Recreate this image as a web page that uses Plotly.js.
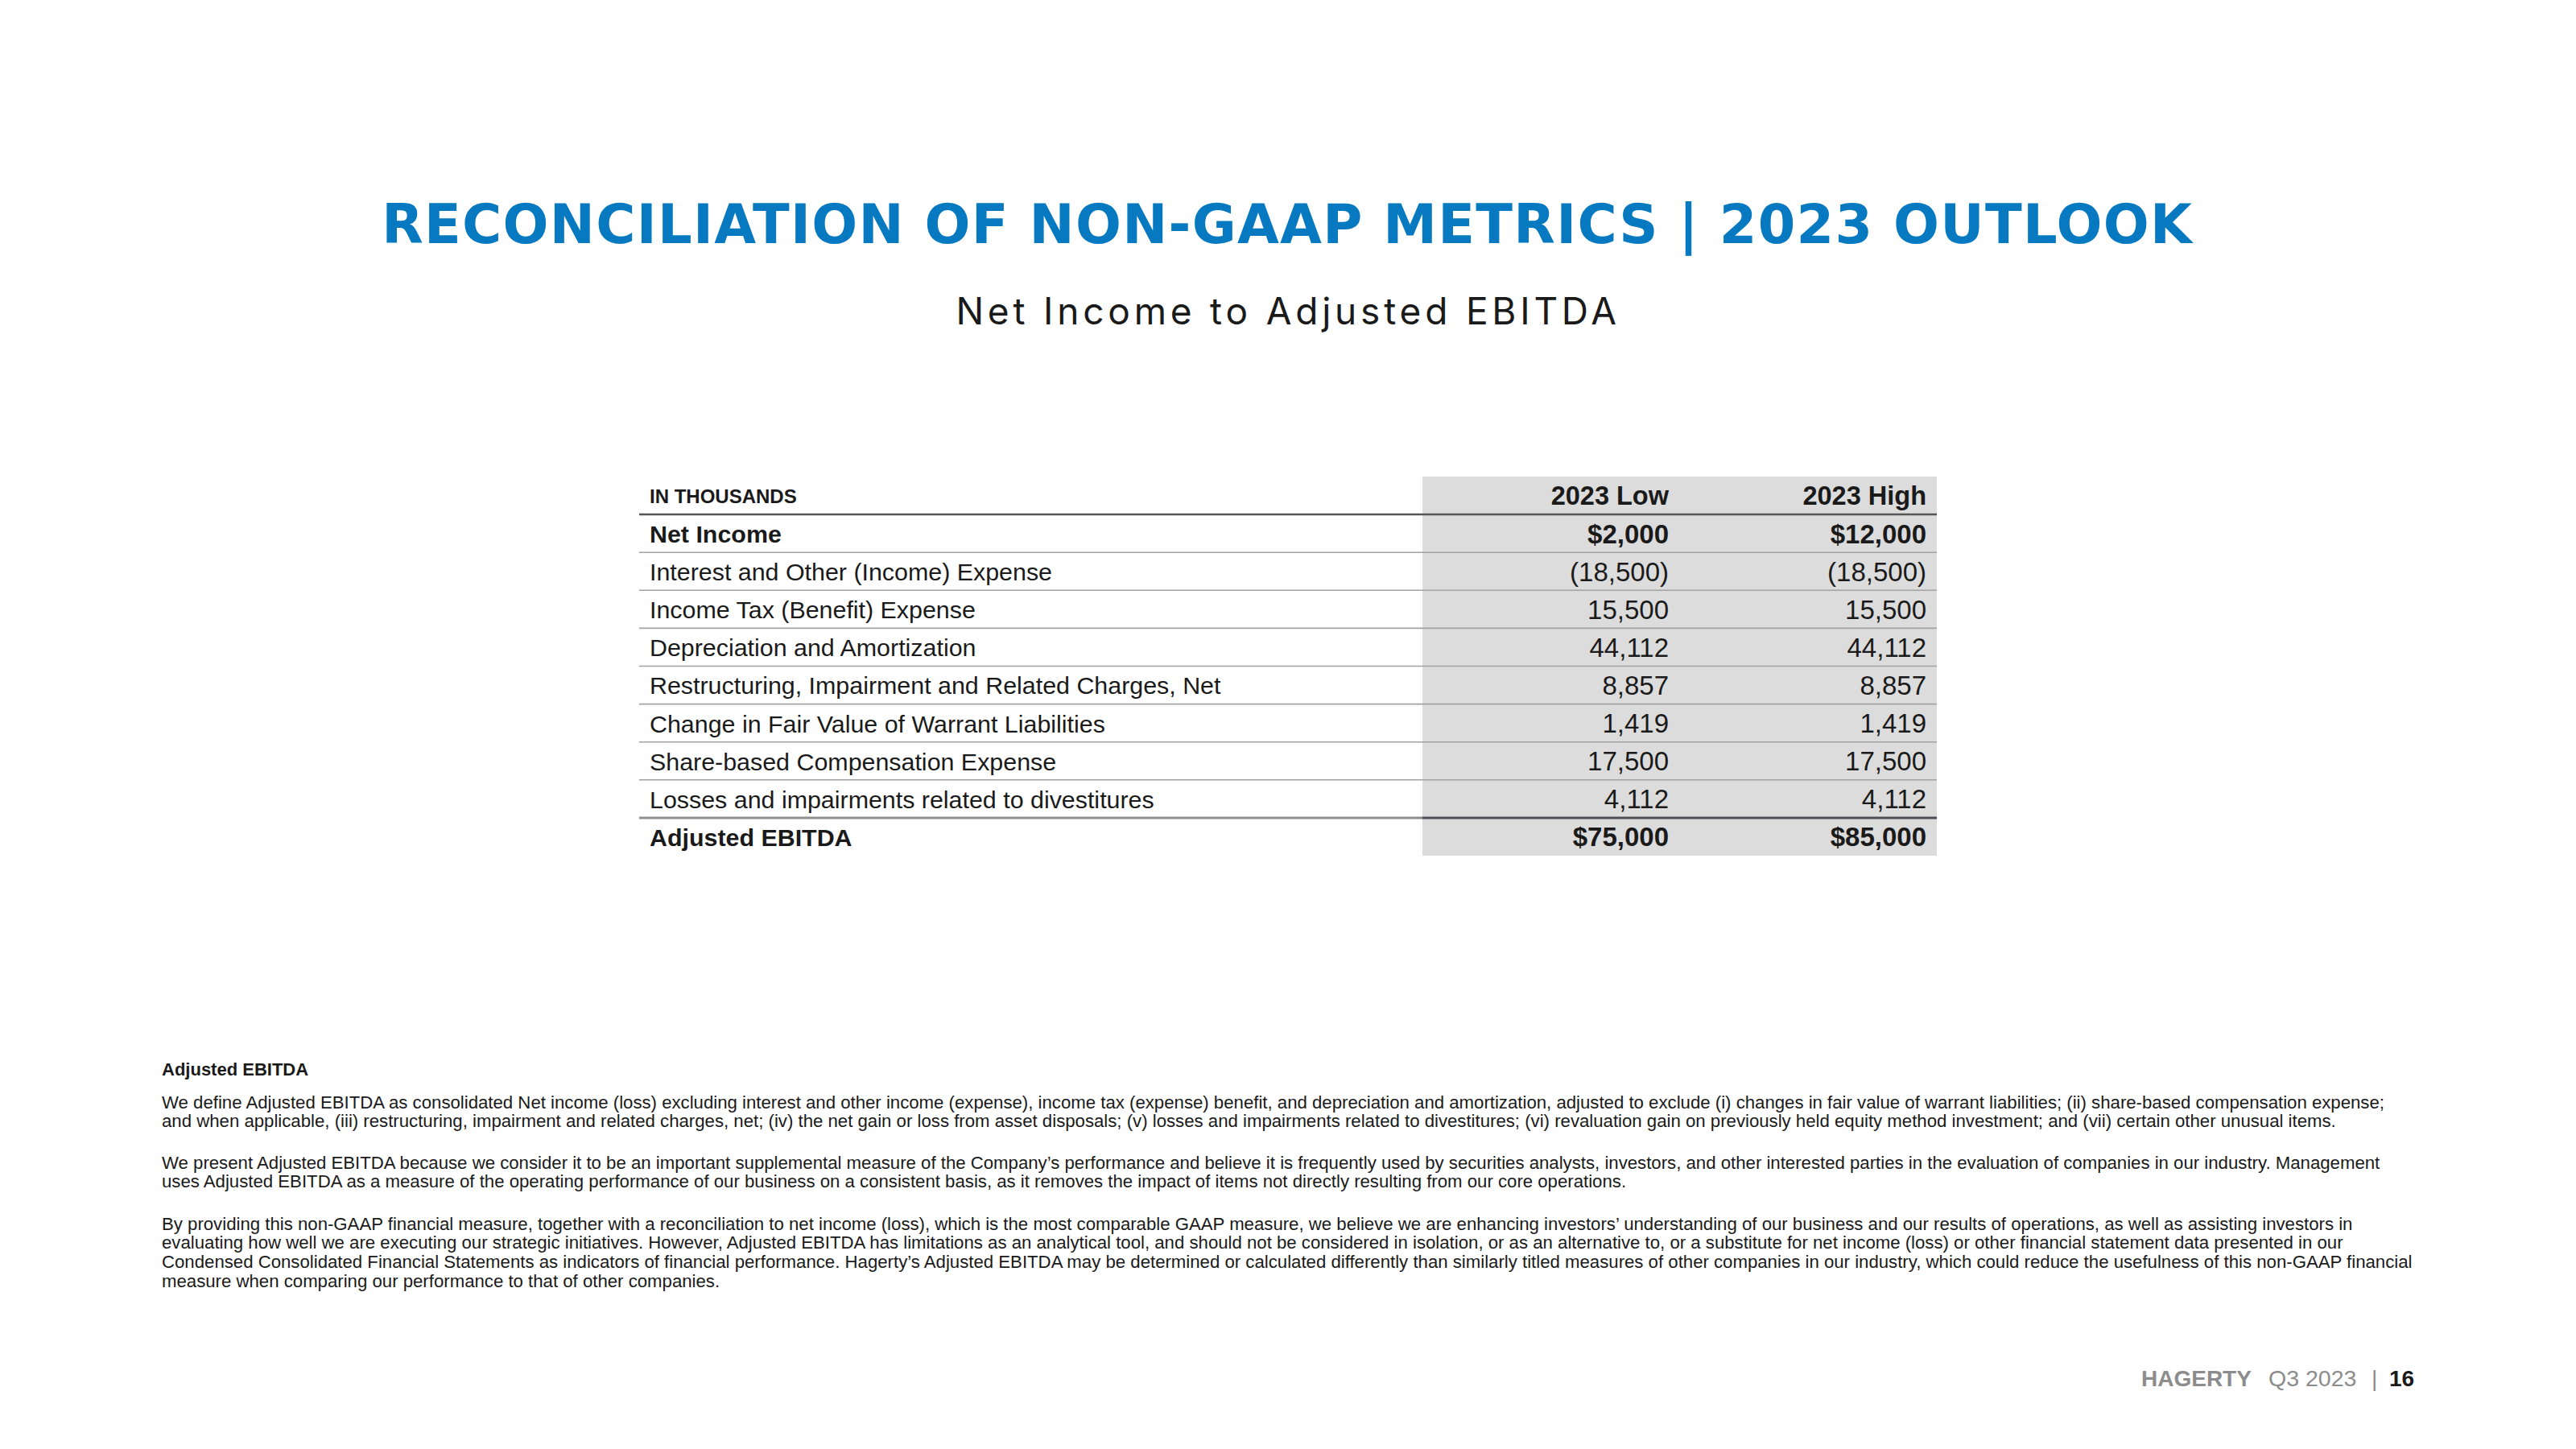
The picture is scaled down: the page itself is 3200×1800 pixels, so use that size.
<!DOCTYPE html>
<html>
<head>
<meta charset="utf-8">
<script src="https://cdn.plot.ly/plotly-3.0.1.min.js"></script>
<style>
  html, body { margin: 0; padding: 0; background: #ffffff; }
  #chart { width: 3200px; height: 1800px; }
</style>
</head>
<body>
<div id="chart"></div>
<script>
// ---------------- DATA ----------------
const titleText = 'RECONCILIATION OF NON-GAAP METRICS | 2023 OUTLOOK';
const subtitleText = 'Net Income to Adjusted EBITDA';
const headerLabel = 'IN THOUSANDS';
const columnLabels = ['2023 Low', '2023 High'];
const rowLabels = [
  'Net Income',
  'Interest and Other (Income) Expense',
  'Income Tax (Benefit) Expense',
  'Depreciation and Amortization',
  'Restructuring, Impairment and Related Charges, Net',
  'Change in Fair Value of Warrant Liabilities',
  'Share-based Compensation Expense',
  'Losses and impairments related to divestitures',
  'Adjusted EBITDA'
];
const lowValues  = [2000, -18500, 15500, 44112, 8857, 1419, 17500, 4112, 75000];
const highValues = [12000, -18500, 15500, 44112, 8857, 1419, 17500, 4112, 85000];
const totalRows = ['Net Income', 'Adjusted EBITDA'];   // bold rows shown with $

const noteHeading = 'Adjusted EBITDA';
const noteParagraphs = [
  [
    'We define Adjusted EBITDA as consolidated Net income (loss) excluding interest and other income (expense), income tax (expense) benefit, and depreciation and amortization, adjusted to exclude (i) changes in fair value of warrant liabilities; (ii) share-based compensation expense;',
    'and when applicable, (iii) restructuring, impairment and related charges, net; (iv) the net gain or loss from asset disposals; (v) losses and impairments related to divestitures; (vi) revaluation gain on previously held equity method investment; and (vii) certain other unusual items.'
  ],
  [
    'We present Adjusted EBITDA because we consider it to be an important supplemental measure of the Company\u2019s performance and believe it is frequently used by securities analysts, investors, and other interested parties in the evaluation of companies in our industry. Management',
    'uses Adjusted EBITDA as a measure of the operating performance of our business on a consistent basis, as it removes the impact of items not directly resulting from our core operations.'
  ],
  [
    'By providing this non-GAAP financial measure, together with a reconciliation to net income (loss), which is the most comparable GAAP measure, we believe we are enhancing investors\u2019 understanding of our business and our results of operations, as well as assisting investors in',
    'evaluating how well we are executing our strategic initiatives. However, Adjusted EBITDA has limitations as an analytical tool, and should not be considered in isolation, or as an alternative to, or a substitute for net income (loss) or other financial statement data presented in our',
    'Condensed Consolidated Financial Statements as indicators of financial performance. Hagerty\u2019s Adjusted EBITDA may be determined or calculated differently than similarly titled measures of other companies in our industry, which could reduce the usefulness of this non-GAAP financial',
    'measure when comparing our performance to that of other companies.'
  ]
];
const footerBrand = 'HAGERTY';
const footerPeriod = 'Q3 2023';
const footerPage = '16';

// ---------------- LAYOUT CONSTANTS ----------------
const W = 3200, H = 1800;
const SANS = '"Liberation Sans", Arial, Helvetica, sans-serif';
const TXT = '#1a1a1a';
const tableLeft = 794, tableRight = 2406, grayLeft = 1767;
const tableTop = 592, tableBottom = 1063;
const labelX = 807, lowX = 2073, highX = 2393;
const nRows = rowLabels.length + 1; // header + data rows
const textNudge = 0.08;              // rows: text sits slightly below centre

function fmt(v, dollar) {
  let s = Math.abs(v).toLocaleString('en-US');
  if (dollar) s = '$' + s;
  if (v < 0) s = '(' + s + ')';
  return s;
}
const isTotal = rowLabels.map(l => totalRows.includes(l));
const rowIdx = rowLabels.map((_, i) => i + 1 + textNudge);
const b = (s, on) => on ? '<b>' + s + '</b>' : s;

const traces = [
  { // header label
    type: 'scatter', mode: 'text', xaxis: 'x', yaxis: 'y2',
    x: [labelX], y: [0 + textNudge], text: ['<b>' + headerLabel + '</b>'],
    textposition: 'middle right', textfont: { family: SANS, size: 24, color: TXT },
    hoverinfo: 'skip', showlegend: false, cliponaxis: false
  },
  { // column labels
    type: 'scatter', mode: 'text', xaxis: 'x', yaxis: 'y2',
    x: [lowX, highX], y: [textNudge, textNudge], text: columnLabels.map(c => '<b>' + c + '</b>'),
    textposition: 'middle left', textfont: { family: SANS, size: 32.5, color: TXT },
    hoverinfo: 'skip', showlegend: false, cliponaxis: false
  },
  { // row labels
    type: 'scatter', mode: 'text', xaxis: 'x', yaxis: 'y2',
    x: rowLabels.map(() => labelX), y: rowIdx,
    text: rowLabels.map((l, i) => b(l, isTotal[i])),
    textposition: 'middle right', textfont: { family: SANS, size: 30.4, color: TXT },
    hoverinfo: 'skip', showlegend: false, cliponaxis: false
  },
  { // low values
    type: 'scatter', mode: 'text', xaxis: 'x', yaxis: 'y2',
    x: lowValues.map(() => lowX), y: rowIdx,
    text: lowValues.map((v, i) => b(fmt(v, isTotal[i]), isTotal[i])),
    textposition: 'middle left', textfont: { family: SANS, size: 33, color: TXT },
    hoverinfo: 'skip', showlegend: false, cliponaxis: false
  },
  { // high values
    type: 'scatter', mode: 'text', xaxis: 'x', yaxis: 'y2',
    x: highValues.map(() => highX), y: rowIdx,
    text: highValues.map((v, i) => b(fmt(v, isTotal[i]), isTotal[i])),
    textposition: 'middle left', textfont: { family: SANS, size: 33, color: TXT },
    hoverinfo: 'skip', showlegend: false, cliponaxis: false
  }
];

// shapes: gray column background + rules
const shapes = [{
  type: 'rect', xref: 'x', yref: 'y2', x0: grayLeft, x1: tableRight,
  y0: -0.5, y1: nRows - 0.5, fillcolor: '#dcdcdc', line: { width: 0 }, layer: 'below'
}];
for (let k = 0; k < nRows - 1; k++) {
  const y = k + 0.5;
  if (k === 0) {
    shapes.push({ type: 'line', xref: 'x', yref: 'y2', x0: tableLeft, x1: tableRight, y0: y, y1: y,
      line: { color: '#555555', width: 2.5 } });
  } else if (k === nRows - 2) {
    shapes.push({ type: 'line', xref: 'x', yref: 'y2', x0: tableLeft, x1: grayLeft, y0: y, y1: y,
      line: { color: '#8e8e8e', width: 3 } });
    shapes.push({ type: 'line', xref: 'x', yref: 'y2', x0: grayLeft, x1: tableRight, y0: y, y1: y,
      line: { color: '#4c4e56', width: 3 } });
  } else {
    shapes.push({ type: 'line', xref: 'x', yref: 'y2', x0: tableLeft, x1: tableRight, y0: y, y1: y,
      line: { color: '#a2a2a2', width: 1.6 } });
  }
}

// annotations (positions in page pixels on the hidden x/y axes)
function ann(text, x, baseline, size, opts) {
  opts = opts || {};
  return Object.assign({
    xref: 'x', yref: 'y', x: x, y: baseline - 0.35 * size, yanchor: 'middle',
    xanchor: 'left', showarrow: false, text: text, borderpad: 0,
    font: { family: SANS, size: size, color: TXT }
  }, opts);
}
const annotations = [];
annotations.push(ann(titleText, 1600, 302, 67, {
  xanchor: 'center',
  font: { family: '"DejaVu Sans", sans-serif', size: 67, color: '#0679c1', weight: 700 }
}));
annotations.push(ann(subtitleText, 1600, 402, 46, {
  xanchor: 'center',
  font: { family: 'Inter, sans-serif', size: 46, color: '#1a1a1a', weight: 400 }
}));
annotations.push(ann('<b>' + noteHeading + '</b>', 200, 1336, 22));
const paraStarts = [1377, 1452, 1528];
const lineGap = 23.6;
noteParagraphs.forEach((lines, p) => {
  lines.forEach((line, j) => {
    annotations.push(ann(line, 200, paraStarts[p] + j * lineGap, 22.2));
  });
});
annotations.push(ann('<b>' + footerBrand + '</b>', 2798, 1722, 28, {
  xanchor: 'right', font: { family: SANS, size: 28, color: '#8c8c8c' } }));
annotations.push(ann(footerPeriod, 2817, 1722, 28.5, {
  font: { family: SANS, size: 28.5, color: '#8c8c8c' } }));
annotations.push(ann('|', 2949, 1722, 28, {
  xanchor: 'center', font: { family: SANS, size: 28, color: '#8c8c8c' } }));
annotations.push(ann('<b>' + footerPage + '</b>', 3000, 1722, 28, {
  xanchor: 'right', font: { family: SANS, size: 28, color: '#1a1a1a' } }));

const layout = {
  width: W, height: H,
  margin: { l: 0, r: 0, t: 0, b: 0, pad: 0 },
  paper_bgcolor: '#ffffff', plot_bgcolor: 'rgba(0,0,0,0)',
  showlegend: false,
  xaxis: { range: [0, W], visible: false, fixedrange: true, domain: [0, 1] },
  yaxis: { range: [H, 0], visible: false, fixedrange: true, domain: [0, 1] },
  yaxis2: { range: [nRows - 0.5, -0.5], visible: false, fixedrange: true, anchor: 'x',
    domain: [1 - tableBottom / H, 1 - tableTop / H] },
  shapes: shapes,
  annotations: annotations
};

// letter-spacing of the two headings (centred text keeps its centre)
const spacing = {};
spacing[titleText] = '1.3px';
spacing[subtitleText] = '4.8px';

Plotly.newPlot('chart', traces, layout, { staticPlot: true, displayModeBar: false }).then(() => {
  document.querySelectorAll('.annotation-text').forEach(t => {
    const sp = spacing[t.textContent];
    if (sp) t.style.letterSpacing = sp;
  });
});
</script>
</body>
</html>
